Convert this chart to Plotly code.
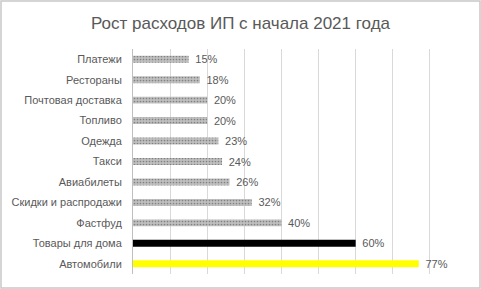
import plotly.graph_objects as go

categories = ["Платежи", "Рестораны", "Почтовая доставка", "Топливо", "Одежда", "Такси",
              "Авиабилеты", "Скидки и распродажи", "Фастфуд", "Товары для дома", "Автомобили"]
values = [0.15, 0.18, 0.20, 0.20, 0.23, 0.24, 0.26, 0.32, 0.40, 0.60, 0.77]
labels = ["15%", "18%", "20%", "20%", "23%", "24%", "26%", "32%", "40%", "60%", "77%"]
colors = ["#bfbfbf"] * 9 + ["#000000", "#ffff00"]
shapes = ["."] * 9 + ["", ""]

fig = go.Figure(go.Bar(
    y=categories, x=values, orientation="h",
    text=labels, texttemplate="\u2004%{text}", textposition="outside",
    cliponaxis=False, constraintext="none",
    textfont=dict(size=11, color="#595959", family="Liberation Sans"),
    marker=dict(color=colors, line=dict(width=0),
                pattern=dict(shape=shapes, fgcolor="#d4d4d4", size=3, solidity=0.25)),
))
fig.update_layout(
    width=481, height=289,
    margin=dict(l=133, r=14, t=49, b=15),
    paper_bgcolor="white", plot_bgcolor="white",
    bargap=0.66, showlegend=False,
    title=dict(text="Рост расходов ИП с начала 2021 года", x=0.5, xanchor="center",
               y=0.92, yanchor="middle",
               font=dict(size=17, color="#595959", family="Liberation Sans")),
    font=dict(family="Liberation Sans", size=11, color="#595959"),
    xaxis=dict(range=[0, 0.9], dtick=0.1, showticklabels=False, showgrid=True,
               gridcolor="#d9d9d9", gridwidth=1, zeroline=False, showline=False),
    yaxis=dict(autorange="reversed", showgrid=False, showline=True, linecolor="#bfbfbf",
               ticks="", ticklabelstandoff=8, tickfont=dict(size=11, color="#595959")),
    shapes=[dict(type="rect", xref="paper", yref="paper",
                 x0=-0.3952, x1=1.0389, y0=-0.0622, y1=1.2133,
                 line=dict(color="#c8c8c8", width=1.5))],
)
fig.write_html("out.html")
